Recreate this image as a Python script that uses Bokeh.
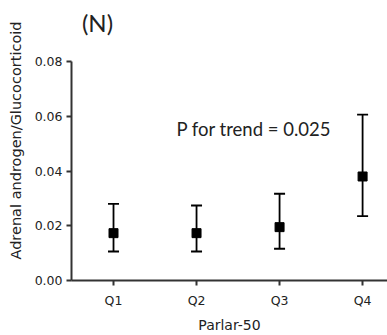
from bokeh.plotting import figure
from bokeh.models import (ColumnDataSource, Whisker, TeeHead, Range1d, FixedTicker,
                          PrintfTickFormatter, Label)
from bokeh.embed import file_html
from bokeh.resources import INLINE

categories = ["Q1", "Q2", "Q3", "Q4"]
positions = [1, 2, 3, 4]
means = [0.0173, 0.0173, 0.0195, 0.0380]
upper = [0.0280, 0.0274, 0.0317, 0.0606]
lower = [0.0106, 0.0106, 0.0116, 0.0235]
y_ticks = [0.00, 0.02, 0.04, 0.06, 0.08]
annotation = "P for trend = 0.025"
panel_title = "(N)"

src = ColumnDataSource(dict(x=positions, y=means, up=upper, lo=lower))

p = figure(width=387, height=335, output_backend="svg", toolbar_location=None,
           x_range=Range1d(0.494, 4.30), y_range=Range1d(0, 0.1023),
           min_border_left=71, min_border_right=0, min_border_top=0,
           min_border_bottom=55)
p.outline_line_color = None
p.grid.visible = False
p.background_fill_color = "white"

axis_col = "#333333"
txt_col = "#222222"

for ax in (p.xaxis[0], p.yaxis[0]):
    ax.axis_line_color = axis_col
    ax.axis_line_width = 2
    ax.major_tick_line_color = axis_col
    ax.major_tick_line_width = 2
    ax.major_tick_out = 5
    ax.major_tick_in = 0
    ax.minor_tick_line_color = None
    ax.major_label_text_font = "DejaVu Sans"
    ax.major_label_text_color = txt_col
    ax.major_label_text_font_size = "12.5px"
    ax.axis_label_text_font = "DejaVu Sans"
    ax.axis_label_text_font_style = "normal"
    ax.axis_label_text_color = txt_col

p.yaxis.ticker = FixedTicker(ticks=y_ticks)
p.yaxis.bounds = (y_ticks[0], y_ticks[-1])
p.yaxis.formatter = PrintfTickFormatter(format="%.2f")
p.yaxis.major_label_standoff = 4
p.yaxis.axis_label = "Adrenal androgen/Glucocorticoid"
p.yaxis.axis_label_text_font_size = "14.5px"
p.yaxis.axis_label_standoff = 8

p.xaxis.ticker = FixedTicker(ticks=positions)
p.xaxis.major_label_overrides = {pos: c for pos, c in zip(positions, categories)}
p.xaxis.major_label_standoff = 7
p.xaxis.axis_label = "Parlar-50"
p.xaxis.axis_label_text_font_size = "14px"
p.xaxis.axis_label_standoff = 6

w = Whisker(source=src, base="x", upper="up", lower="lo",
            line_color="black", line_width=1.8,
            upper_head=TeeHead(size=11, line_color="black", line_width=1.8),
            lower_head=TeeHead(size=11, line_color="black", line_width=1.8))
p.add_layout(w)
p.scatter("x", "y", source=src, marker="square", size=9, color="black")

p.add_layout(Label(x=1.759, y=0.0552, text=annotation, text_font="Lato",
                   text_font_size="18.5px", text_color=txt_col,
                   text_baseline="middle", text_align="left"))
p.add_layout(Label(x=0.807, y=0.0942, text=panel_title, text_font="Lato",
                   text_font_size="24px", text_color=txt_col,
                   text_baseline="middle", text_align="center"))

open("out.html", "w").write(file_html(p, INLINE))
